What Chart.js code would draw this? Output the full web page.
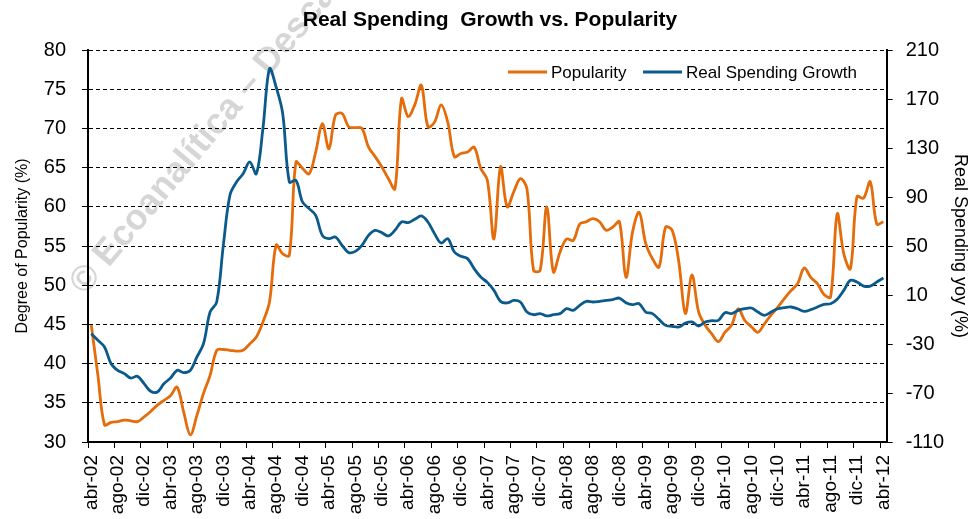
<!DOCTYPE html>
<html>
<head>
<meta charset="utf-8">
<title>Real Spending Growth vs. Popularity</title>
<script src="https://cdn.jsdelivr.net/npm/chart.js@4.4.1/dist/chart.umd.min.js"></script>
<style>
  html, body { margin: 0; padding: 0; background: #fff; }
  #wrap { width: 980px; height: 519px; }
</style>
</head>
<body>
<div id="wrap"><canvas id="spendChart" width="980" height="519"></canvas></div>
<script>
// month names used for the monthly category labels (abr-02 .. abr-12)
const monthNames = ['ene', 'feb', 'mar', 'abr', 'may', 'jun', 'jul', 'ago', 'sep', 'oct', 'nov', 'dic'];
const startYear = 2002;
const startMonth = 3; // abr
const monthCount = 121;

// Popularity (%), left axis
const popularity = [
  44.9, 38.5, 32.2, 32.5, 32.6, 32.8, 32.7, 32.6, 33.2, 33.9,
  34.7, 35.3, 35.9, 37.0, 33.8, 30.9, 33.4, 36.2, 38.5, 41.7,
  41.8, 41.7, 41.6, 41.7, 42.5, 43.4, 45.3, 47.9, 55.1, 54.0,
  53.8, 65.7, 64.9, 64.2, 67.0, 70.6, 67.4, 71.7, 71.9, 70.2,
  70.1, 70.0, 67.6, 66.4, 65.1, 63.6, 62.3, 73.8, 71.5, 73.0,
  75.5, 70.2, 70.8, 73.0, 70.8, 66.4, 66.8, 67.0, 67.6, 64.9,
  63.4, 55.9, 65.1, 60.0, 61.9, 63.6, 62.3, 51.9, 51.9, 60.0,
  51.7, 54.2, 55.9, 55.7, 57.8, 58.1, 58.5, 58.1, 57.0, 57.4,
  58.1, 51.0, 56.8, 59.3, 55.3, 53.4, 52.3, 57.4, 57.0, 53.0,
  46.4, 51.3, 46.6, 44.9, 43.8, 42.8, 44.0, 44.9, 47.0, 45.5,
  44.7, 44.0, 45.1, 46.2, 47.2, 48.3, 49.3, 50.2, 52.2, 51.0,
  50.2, 48.8, 48.5, 59.1, 54.0, 52.1, 61.3, 61.1, 63.2, 57.8,
  58.1
];

// Real spending growth yoy (%), right axis
const spendingGrowth = [
  -21.6, -27.0, -32.4, -46.1, -51.5, -54.2, -57.8, -56.4, -62.4, -68.6,
  -69.2, -62.4, -57.8, -51.5, -53.4, -51.5, -40.6, -29.7, -3.9, 4.3,
  50.5, 91.4, 102.2, 109.0, 118.6, 109.0, 145.8, 194.8, 179.8, 158.0,
  102.2, 103.6, 85.9, 80.5, 75.0, 58.7, 56.0, 57.3, 50.5, 44.6,
  45.6, 50.5, 58.7, 62.8, 60.9, 58.2, 62.8, 69.6, 69.1, 71.8,
  74.5, 69.6, 60.1, 52.4, 56.0, 45.1, 41.6, 39.7, 31.5, 24.7,
  20.3, 13.8, 4.8, 3.5, 5.6, 4.3, -3.9, -6.1, -5.2, -7.1,
  -6.1, -5.2, -1.2, -2.5, 1.6, 4.8, 4.3, 4.8, 5.6, 6.2,
  7.5, 3.7, 2.1, 2.9, -3.9, -5.2, -9.9, -14.8, -15.6, -16.1,
  -13.0, -12.0, -15.3, -12.0, -11.0, -10.7, -4.4, -5.2, -2.5, -1.2,
  -0.6, -3.9, -6.6, -3.9, -1.2, -0.3, 0.2, -1.2, -3.3, -2.0,
  0.2, 2.4, 2.9, 6.5, 13.8, 22.0, 20.6, 17.3, 17.3, 20.6,
  23.9
];

// right axis ticks
const rightTicks = [-110, -70, -30, 10, 50, 90, 130, 170, 210];

const labels = [];
for (let i = 0; i < monthCount; i++) {
  const m = (startMonth + i) % 12;
  const y = startYear + Math.floor((startMonth + i) / 12);
  labels.push(monthNames[m] + '-' + String(y % 100).padStart(2, '0'));
}

const FONT = "'Liberation Sans', Arial, sans-serif";
const ORANGE = '#E46C0A';
const BLUE = '#0B5A8C';

Chart.defaults.font.family = FONT;
Chart.defaults.color = '#000';

// faint watermark behind the lines
const watermark = {
  id: 'watermark',
  beforeDraw(chart) {
    const ctx = chart.ctx;
    ctx.save();
    ctx.translate(85, 296);
    ctx.rotate(-50 * Math.PI / 180);
    ctx.font = 'bold 36px ' + FONT;
    ctx.fillStyle = '#d6d6d6';
    ctx.textBaseline = 'alphabetic';
    ctx.fillText('© Ecoanalítica – Descarga', 0, 0);
    ctx.restore();
  }
};

// legend drawn inside the plot area, top right
const lineLegend = {
  id: 'lineLegend',
  afterDraw(chart) {
    const ctx = chart.ctx;
    const items = [
      { text: 'Popularity', color: ORANGE, x: 508 },
      { text: 'Real Spending Growth', color: BLUE, x: 643 }
    ];
    const y = 72;
    ctx.save();
    ctx.font = '17px ' + FONT;
    ctx.textBaseline = 'middle';
    items.forEach(it => {
      ctx.strokeStyle = it.color;
      ctx.lineWidth = 3;
      ctx.beginPath();
      ctx.moveTo(it.x, y);
      ctx.lineTo(it.x + 39, y);
      ctx.stroke();
      ctx.fillStyle = '#000';
      ctx.fillText(it.text, it.x + 43, y + 1);
    });
    ctx.restore();
  }
};

const ctx = document.getElementById('spendChart').getContext('2d');
const chart = new Chart(ctx, {
  type: 'line',
  data: {
    labels: labels,
    datasets: [
      {
        label: 'Popularity',
        data: popularity,
        yAxisID: 'y',
        borderColor: ORANGE,
        backgroundColor: ORANGE,
        borderWidth: 2.8,
        pointRadius: 0,
        tension: 0.35,
        fill: false,
        order: 1
      },
      {
        label: 'Real Spending Growth',
        data: spendingGrowth,
        yAxisID: 'y1',
        borderColor: BLUE,
        backgroundColor: BLUE,
        borderWidth: 2.8,
        pointRadius: 0,
        tension: 0.35,
        fill: false,
        order: 0
      }
    ]
  },
  options: {
    responsive: false,
    animation: false,
    layout: { padding: 0 },
    plugins: {
      legend: { display: false },
      tooltip: { enabled: false },
      title: {
        display: true,
        text: 'Real Spending  Growth vs. Popularity',
        color: '#000',
        font: { size: 21, weight: 'bold', family: FONT },
        padding: { top: 8, bottom: 16.8 }
      }
    },
    scales: {
      x: {
        type: 'category',
        offset: true,
        grid: {
          display: true,
          offset: true,
          drawOnChartArea: false,
          drawTicks: true,
          tickLength: 6,
          lineWidth: 1,
          color: c => (c.index % 4 === 0 ? '#000' : 'rgba(0,0,0,0)')
        },
        border: { display: true, color: '#000', width: 2 },
        ticks: {
          autoSkip: false,
          minRotation: 90,
          maxRotation: 90,
          padding: 7,
          color: '#000',
          font: { size: 19, family: FONT },
          callback: (v, i) => (i % 4 === 0 ? labels[i] : '')
        },
        afterFit: s => { s.height = 77; }
      },
      y: {
        position: 'left',
        min: 30,
        max: 80,
        ticks: { stepSize: 5, padding: 16, color: '#000', font: { size: 20, family: FONT } },
        grid: {
          color: '#000',
          lineWidth: 1,
          tickLength: 6,
          tickColor: '#000',
          tickBorderDash: []
        },
        border: { display: true, color: '#000', width: 2, dash: [4, 3] },
        title: {
          display: true,
          text: 'Degree of Popularity (%)',
          color: '#000',
          font: { size: 16, family: FONT },
          padding: { top: 13, bottom: 0 }
        },
        afterFit: s => { s.width = 88; }
      },
      y1: {
        position: 'right',
        min: -110,
        max: 210,
        afterBuildTicks: s => { s.ticks = rightTicks.map(v => ({ value: v })); },
        ticks: { padding: 13, color: '#000', font: { size: 20, family: FONT } },
        grid: {
          drawOnChartArea: false,
          drawTicks: true,
          tickLength: 6,
          color: '#000',
          tickBorderDash: []
        },
        border: { display: true, color: '#000', width: 2 },
        title: {
          display: true,
          text: 'Real Spending yoy (%)',
          color: '#000',
          font: { size: 18, family: FONT },
          padding: { top: 9, bottom: 0 }
        },
        afterFit: s => { s.width = 93.3; }
      }
    }
  },
  plugins: [watermark, lineLegend]
});
</script>
</body>
</html>
